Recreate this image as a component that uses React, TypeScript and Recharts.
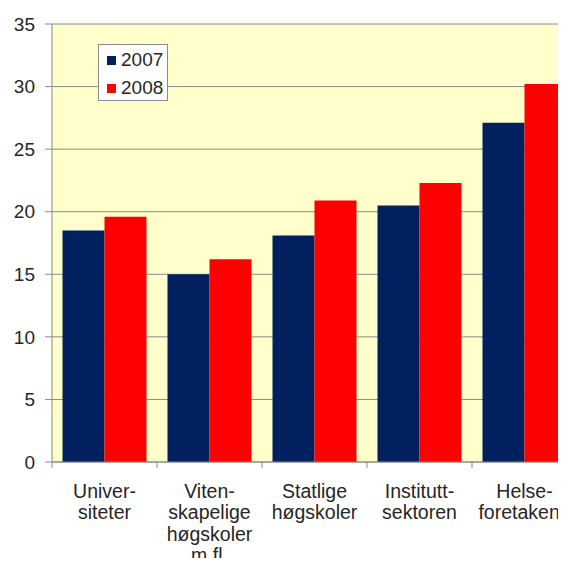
import { BarChart, Bar, XAxis, YAxis, CartesianGrid, Legend } from "recharts";

const categories = [
  "Univer-\nsiteter",
  "Viten-\nskapelige\nhøgskoler\nm.fl.",
  "Statlige\nhøgskoler",
  "Institutt-\nsektoren",
  "Helse-\nforetakene",
];
const values2007 = [18.5, 15.0, 18.1, 20.5, 27.1];
const values2008 = [19.6, 16.2, 20.9, 22.3, 30.2];
const yTicks = [0, 5, 10, 15, 20, 25, 30, 35];

const NAVY = "#002060";
const RED = "#FF0000";
const GRID = "#8a8a8a";
const TEXT = "#262626";
const FONT = "'Liberation Sans', Arial, sans-serif";

const data = categories.map((name, i) => ({
  name,
  y2007: values2007[i],
  y2008: values2008[i],
}));

function CategoryTick(props: any) {
  const { x, y, payload, width, visibleTicksCount } = props;
  const half = width / (2 * visibleTicksCount);
  const lines = String(payload.value).split("\n");
  return (
    <g>
      <line x1={x - half} x2={x - half} y1={y - 6} y2={y} stroke={GRID} />
      <text x={x} y={y + 30} textAnchor="middle" fill={TEXT} fontSize={19.5} fontFamily={FONT}>
        {lines.map((l, i) => (
          <tspan key={i} x={x} dy={i === 0 ? 0 : 21.3}>
            {l}
          </tspan>
        ))}
      </text>
    </g>
  );
}

function LegendBox() {
  const items = [
    { label: "2007", color: NAVY },
    { label: "2008", color: RED },
  ];
  return (
    <div
      style={{
        boxSizing: "border-box",
        width: 70,
        height: 57,
        border: `1px solid ${GRID}`,
        background: "#fff",
        paddingTop: 1,
        fontFamily: FONT,
        fontSize: 19,
        color: TEXT,
      }}
    >
      {items.map((it) => (
        <div key={it.label} style={{ height: 28, display: "flex", alignItems: "center", paddingLeft: 8 }}>
          <span style={{ width: 9, height: 9, background: it.color, marginRight: 5 }} />
          <span style={{ lineHeight: "28px" }}>{it.label}</span>
        </div>
      ))}
    </div>
  );
}

export default function App() {
  return (
    <div style={{ margin: -8, width: 566, height: 566, overflow: "hidden", background: "#fff", position: "relative" }}>
      <BarChart
        width={600}
        height={566}
        data={data}
        margin={{ top: 24, right: 23, left: 0, bottom: 4 }}
        barCategoryGap="10%"
        barGap={0}
      >
        <CartesianGrid vertical={false} stroke={GRID} fill="#FFFFCC" strokeWidth={1} />
        <XAxis
          dataKey="name"
          height={100}
          interval={0}
          tickLine={false}
          tickSize={6}
          tickMargin={0}
          axisLine={{ stroke: GRID }}
          tick={<CategoryTick />}
        />
        <YAxis
          width={52}
          domain={[0, 35]}
          ticks={yTicks}
          interval={0}
          tickSize={7}
          tickMargin={10}
          axisLine={{ stroke: GRID }}
          tickLine={{ stroke: GRID }}
          tick={{ fill: TEXT, fontSize: 19, fontFamily: FONT }}
        />
        <Legend
          layout="vertical"
          align="center"
          verticalAlign="middle"
          wrapperStyle={{ left: 98, top: 44, width: "auto" }}
          content={() => <LegendBox />}
        />
        <Bar dataKey="y2007" fill={NAVY} isAnimationActive={false} />
        <Bar dataKey="y2008" fill={RED} isAnimationActive={false} />
      </BarChart>
    </div>
  );
}
